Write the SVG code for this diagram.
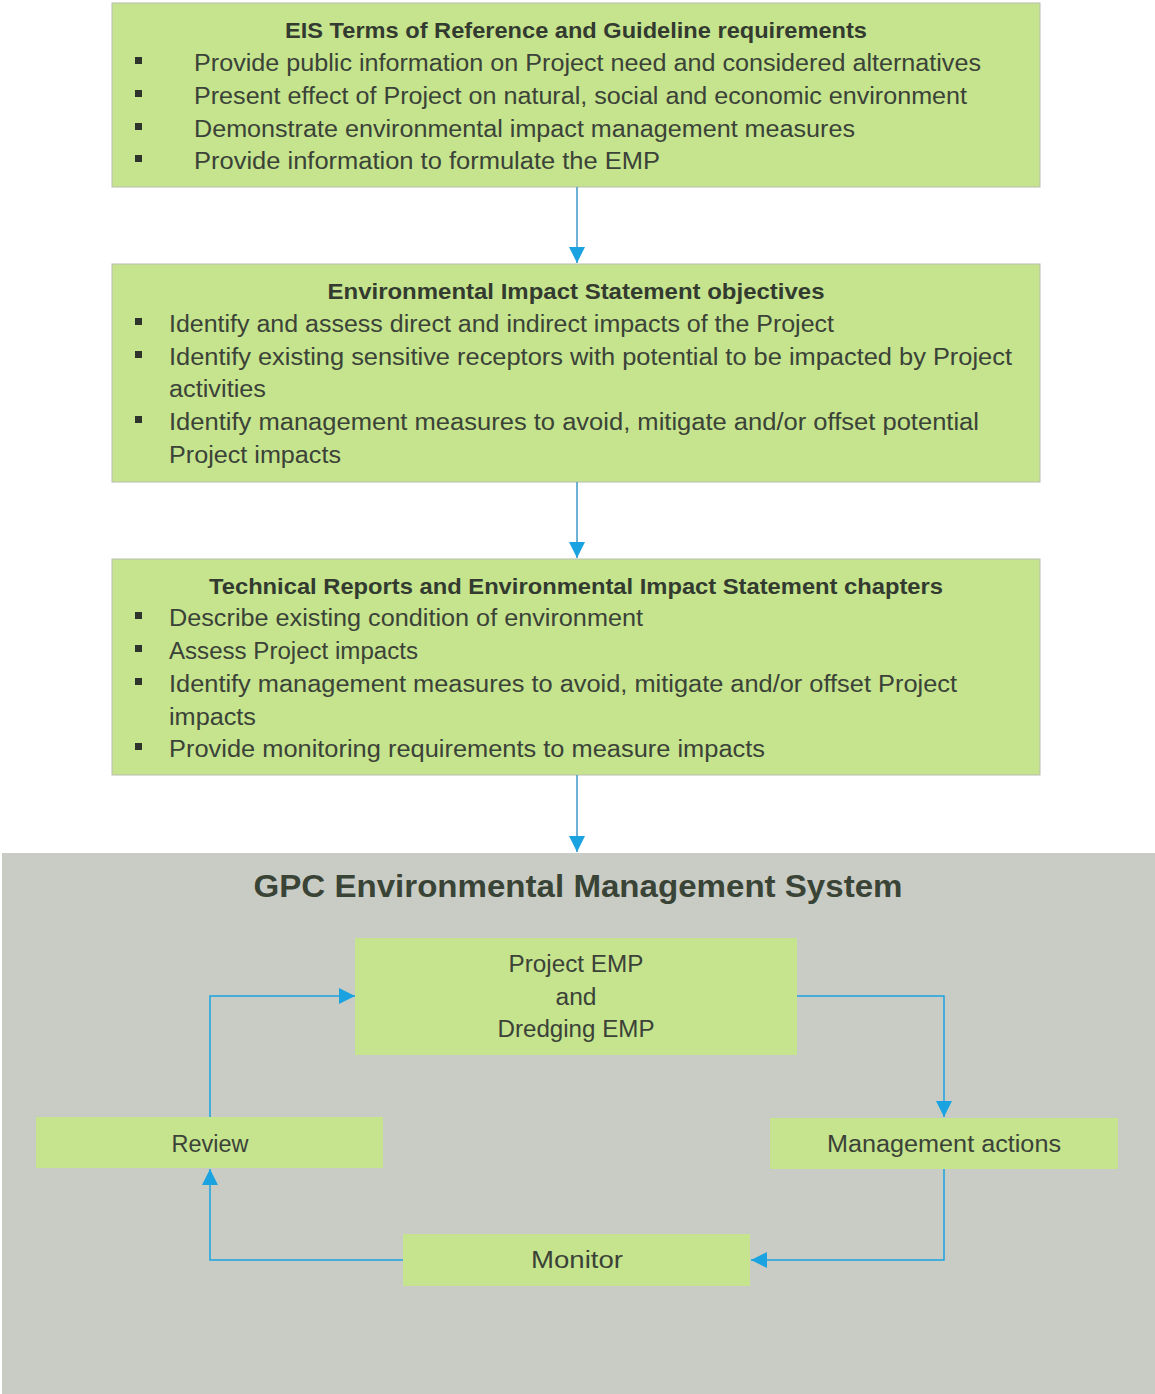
<svg xmlns="http://www.w3.org/2000/svg" width="1155" height="1394" viewBox="0 0 1155 1394">
<defs>
<style>
.box{fill:#c5e48d;stroke:#b8bdb0;stroke-width:1}
.nb{fill:#c5e48d}
.t{font-family:"Liberation Sans",Arial,sans-serif;font-size:23px;fill:#3b4238}
.h{font-family:"Liberation Sans",Arial,sans-serif;font-size:22px;font-weight:bold;fill:#333a30}
.big{font-family:"Liberation Sans",Arial,sans-serif;font-size:32px;font-weight:bold;fill:#3a4436}
.bul{fill:#2e332c}
.c{fill:none;stroke:#1aa3e0;stroke-width:1.5}
.v{fill:none;stroke:#3f97c8;stroke-width:1.5}
</style>
<marker id="ah" viewBox="0 0 10 10" refX="10" refY="5" markerWidth="16" markerHeight="16" markerUnits="userSpaceOnUse" orient="auto">
<path d="M0,0 L10,5 L0,10 z" fill="#1aa3e0"/>
</marker>
</defs>
<rect x="0" y="0" width="1155" height="1394" fill="#ffffff"/>
<rect id="ems" x="2" y="853" width="1153" height="541" fill="#c9ccc5"/>

<g id="box1">
<rect class="box" x="112" y="3" width="928" height="184"/>
<text class="h" x="576" y="38" text-anchor="middle" textLength="582" lengthAdjust="spacingAndGlyphs">EIS Terms of Reference and Guideline requirements</text>
<rect class="bul" x="135" y="57" width="7" height="7"/>
<rect class="bul" x="135" y="90" width="7" height="7"/>
<rect class="bul" x="135" y="123" width="7" height="7"/>
<rect class="bul" x="135" y="155" width="7" height="7"/>
<text class="t" x="194" y="71" textLength="787" lengthAdjust="spacingAndGlyphs">Provide public information on Project need and considered alternatives</text>
<text class="t" x="194" y="104" textLength="773" lengthAdjust="spacingAndGlyphs">Present effect of Project on natural, social and economic environment</text>
<text class="t" x="194" y="137" textLength="661" lengthAdjust="spacingAndGlyphs">Demonstrate environmental impact management measures</text>
<text class="t" x="194" y="169" textLength="466" lengthAdjust="spacingAndGlyphs">Provide information to formulate the EMP</text>
</g>

<g id="box2">
<rect class="box" x="112" y="264" width="928" height="218"/>
<text class="h" x="576" y="299" text-anchor="middle" textLength="497" lengthAdjust="spacingAndGlyphs">Environmental Impact Statement objectives</text>
<rect class="bul" x="135" y="318" width="7" height="7"/>
<rect class="bul" x="135" y="351" width="7" height="7"/>
<rect class="bul" x="135" y="416" width="7" height="7"/>
<text class="t" x="169" y="332" textLength="665" lengthAdjust="spacingAndGlyphs">Identify and assess direct and indirect impacts of the Project</text>
<text class="t" x="169" y="365" textLength="843" lengthAdjust="spacingAndGlyphs">Identify existing sensitive receptors with potential to be impacted by Project</text>
<text class="t" x="169" y="397" textLength="97" lengthAdjust="spacingAndGlyphs">activities</text>
<text class="t" x="169" y="430" textLength="810" lengthAdjust="spacingAndGlyphs">Identify management measures to avoid, mitigate and/or offset potential</text>
<text class="t" x="169" y="463" textLength="172" lengthAdjust="spacingAndGlyphs">Project impacts</text>
</g>

<g id="box3">
<rect class="box" x="112" y="559" width="928" height="216"/>
<text class="h" x="576" y="594" text-anchor="middle" textLength="734" lengthAdjust="spacingAndGlyphs">Technical Reports and Environmental Impact Statement chapters</text>
<rect class="bul" x="135" y="612" width="7" height="7"/>
<rect class="bul" x="135" y="645" width="7" height="7"/>
<rect class="bul" x="135" y="678" width="7" height="7"/>
<rect class="bul" x="135" y="743" width="7" height="7"/>
<text class="t" x="169" y="626" textLength="474" lengthAdjust="spacingAndGlyphs">Describe existing condition of environment</text>
<text class="t" x="169" y="659" textLength="249" lengthAdjust="spacingAndGlyphs">Assess Project impacts</text>
<text class="t" x="169" y="692" textLength="788" lengthAdjust="spacingAndGlyphs">Identify management measures to avoid, mitigate and/or offset Project</text>
<text class="t" x="169" y="725" textLength="87" lengthAdjust="spacingAndGlyphs">impacts</text>
<text class="t" x="169" y="757" textLength="596" lengthAdjust="spacingAndGlyphs">Provide monitoring requirements to measure impacts</text>
</g>

<text class="big" x="578" y="897" text-anchor="middle" textLength="649" lengthAdjust="spacingAndGlyphs">GPC Environmental Management System</text>

<g id="emp">
<rect class="nb" x="355" y="938" width="442" height="117"/>
<text class="t" x="576" y="972" text-anchor="middle" textLength="135" lengthAdjust="spacingAndGlyphs">Project EMP</text>
<text class="t" x="576" y="1005" text-anchor="middle" textLength="41" lengthAdjust="spacingAndGlyphs">and</text>
<text class="t" x="576" y="1037" text-anchor="middle" textLength="157" lengthAdjust="spacingAndGlyphs">Dredging EMP</text>
</g>
<g id="review">
<rect class="nb" x="36" y="1117" width="347" height="51"/>
<text class="t" x="210" y="1152" text-anchor="middle" textLength="77" lengthAdjust="spacingAndGlyphs">Review</text>
</g>
<g id="mgmt">
<rect class="nb" x="770" y="1118" width="348" height="51"/>
<text class="t" x="944" y="1152" text-anchor="middle" textLength="234" lengthAdjust="spacingAndGlyphs">Management actions</text>
</g>
<g id="monitor">
<rect class="nb" x="403" y="1234" width="347" height="52"/>
<text class="t" x="577" y="1268" text-anchor="middle" textLength="92" lengthAdjust="spacingAndGlyphs">Monitor</text>
</g>

<g id="connectors">
<path class="v" d="M577,187 V263" marker-end="url(#ah)"/>
<path class="v" d="M577,482 V558" marker-end="url(#ah)"/>
<path class="v" d="M577,775 V852" marker-end="url(#ah)"/>
<path class="c" d="M797,996 H944 V1117" marker-end="url(#ah)"/>
<path class="c" d="M944,1169 V1260 H751" marker-end="url(#ah)"/>
<path class="c" d="M403,1260 H210 V1169" marker-end="url(#ah)"/>
<path class="c" d="M210,1117 V996 H355" marker-end="url(#ah)"/>
</g>
</svg>
